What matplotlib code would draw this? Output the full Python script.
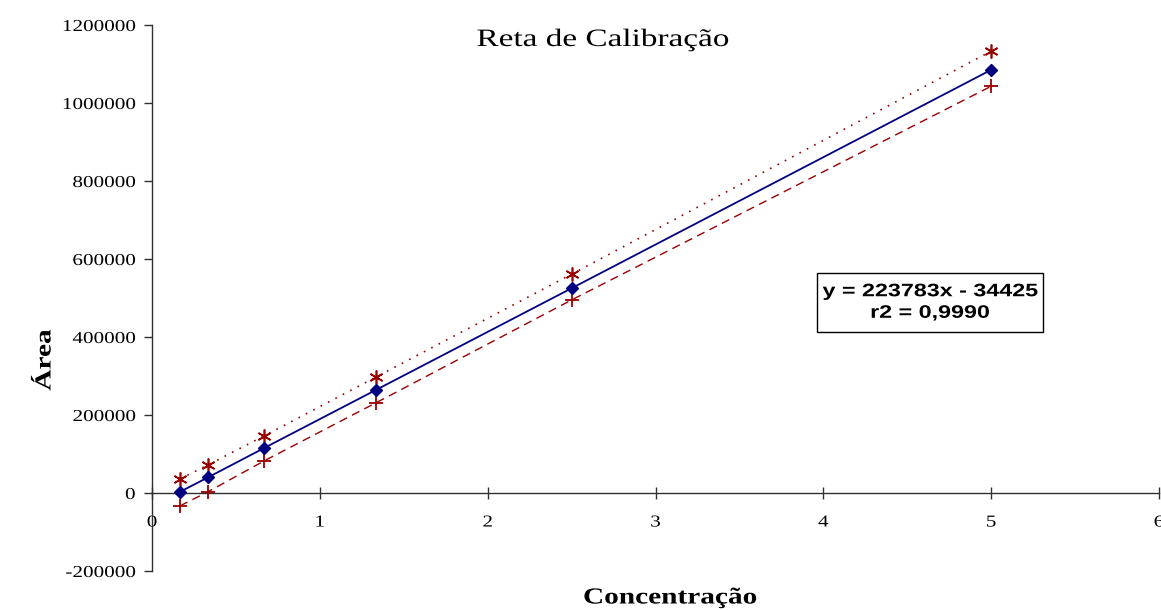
import numpy as np
import matplotlib.pyplot as plt
from matplotlib import patheffects
from matplotlib.transforms import Affine2D
from matplotlib.patches import Rectangle

# Calibration data (concentration vs. peak area)
conc = [0.1667, 0.3333, 0.6667, 1.3333, 2.5, 5.0]
area_fit = [3000, 40000, 115000, 264000, 525000, 1085000]
area_upper = [36000, 72000, 146000, 297000, 561000, 1133000]
area_lower = [-33000, 3000, 82000, 231000, 495000, 1043000]

x_ticks = [0, 1, 2, 3, 4, 5, 6]
y_ticks = [-200000, 0, 200000, 400000, 600000, 800000, 1000000, 1200000]

eq_text = 'y = 223783x - 34425\nr2 = 0,9990'

red = '#990000'
navy = '#000080'
axis_col = '#303030'


class Stretch(patheffects.AbstractPathEffect):
    """Widen text glyphs horizontally around an anchor."""
    def __init__(self, sx, anchor='center'):
        super().__init__()
        self.sx = sx
        self.anchor = anchor

    def draw_path(self, renderer, gc, tpath, affine, rgbFace=None):
        ext = tpath.get_extents()
        x0 = {'left': ext.x0, 'right': ext.x1, 'center': 0.5 * (ext.x0 + ext.x1)}[self.anchor]
        t = Affine2D().translate(-x0, 0).scale(self.sx, 1).translate(x0, 0) + affine
        renderer.draw_path(gc, tpath, t, rgbFace)


serif = 'Liberation Serif'
sans = 'Liberation Sans'

fig = plt.figure(figsize=(11.61, 6.10), dpi=100)
ax = fig.add_axes([152/1161, 1 - 571/610, 1007/1161, 546/610])

ax.plot(conc, area_upper, color=red, lw=1.2, ls=(0, (1, 4)),
        marker=(6, 2, 0), ms=10, mew=1.2, zorder=3)
ax.plot(conc, area_lower, color=red, lw=1.0, ls=(0, (6, 4)),
        marker='+', ms=10, mew=1.3, zorder=3)
ax.plot(conc, area_fit, color=navy, lw=1.3, ls='-',
        marker='D', ms=6.5, zorder=4)

ax.set_xlim(0, 6)
ax.set_ylim(-200000, 1200000)
ax.spines['top'].set_visible(False)
ax.spines['right'].set_visible(False)
ax.spines['bottom'].set_position(('data', 0))
for s in ('left', 'bottom'):
    ax.spines[s].set_color(axis_col)
    ax.spines[s].set_linewidth(1.0)

ax.set_xticks(x_ticks)
ax.set_yticks(y_ticks)
ax.set_xticklabels([str(v) for v in x_ticks])
ax.set_yticklabels([str(v) for v in y_ticks])
ax.tick_params(axis='x', direction='inout', length=9, width=1, color=axis_col, pad=11)
ax.tick_params(axis='y', direction='out', length=6, width=1, color=axis_col, pad=6)

for lab in ax.get_xticklabels():
    lab.set_fontfamily(serif)
    lab.set_fontsize(12)
    lab.set_path_effects([Stretch(1.27, 'center')])
for lab in ax.get_yticklabels():
    lab.set_fontfamily(serif)
    lab.set_fontsize(12)
    lab.set_path_effects([Stretch(1.27, 'right')])

fig.text(603/1161, 1 - 40/610, 'Reta de Calibração', family=serif, fontsize=18,
         ha='center', va='center', path_effects=[Stretch(1.33)])
fig.text(670/1161, 1 - 598/610, 'Concentração', family=serif, fontsize=16.5,
         fontweight='bold', ha='center', va='center', path_effects=[Stretch(1.28)])
fig.text(45/1161, 1 - 360/610, 'Área', family=serif, fontsize=16.5, rotation=90,
         fontweight='bold', ha='center', va='center', path_effects=[Stretch(1.28)])

# regression equation box
box_l, box_r, box_t, box_b = 817, 1043, 273, 332
fig.patches.append(Rectangle((box_l/1161, 1 - box_b/610), (box_r - box_l)/1161,
                             (box_b - box_t)/610, transform=fig.transFigure,
                             facecolor='white', edgecolor='black', lw=1.0, zorder=5))
fig.text((box_l + box_r)/2/1161, 1 - (box_t + box_b)/2/610, eq_text, family=sans,
         fontsize=13, fontweight='bold', ha='center', va='center', linespacing=1.35,
         zorder=6, path_effects=[Stretch(1.29)])

fig.savefig('out.png', dpi=100)
